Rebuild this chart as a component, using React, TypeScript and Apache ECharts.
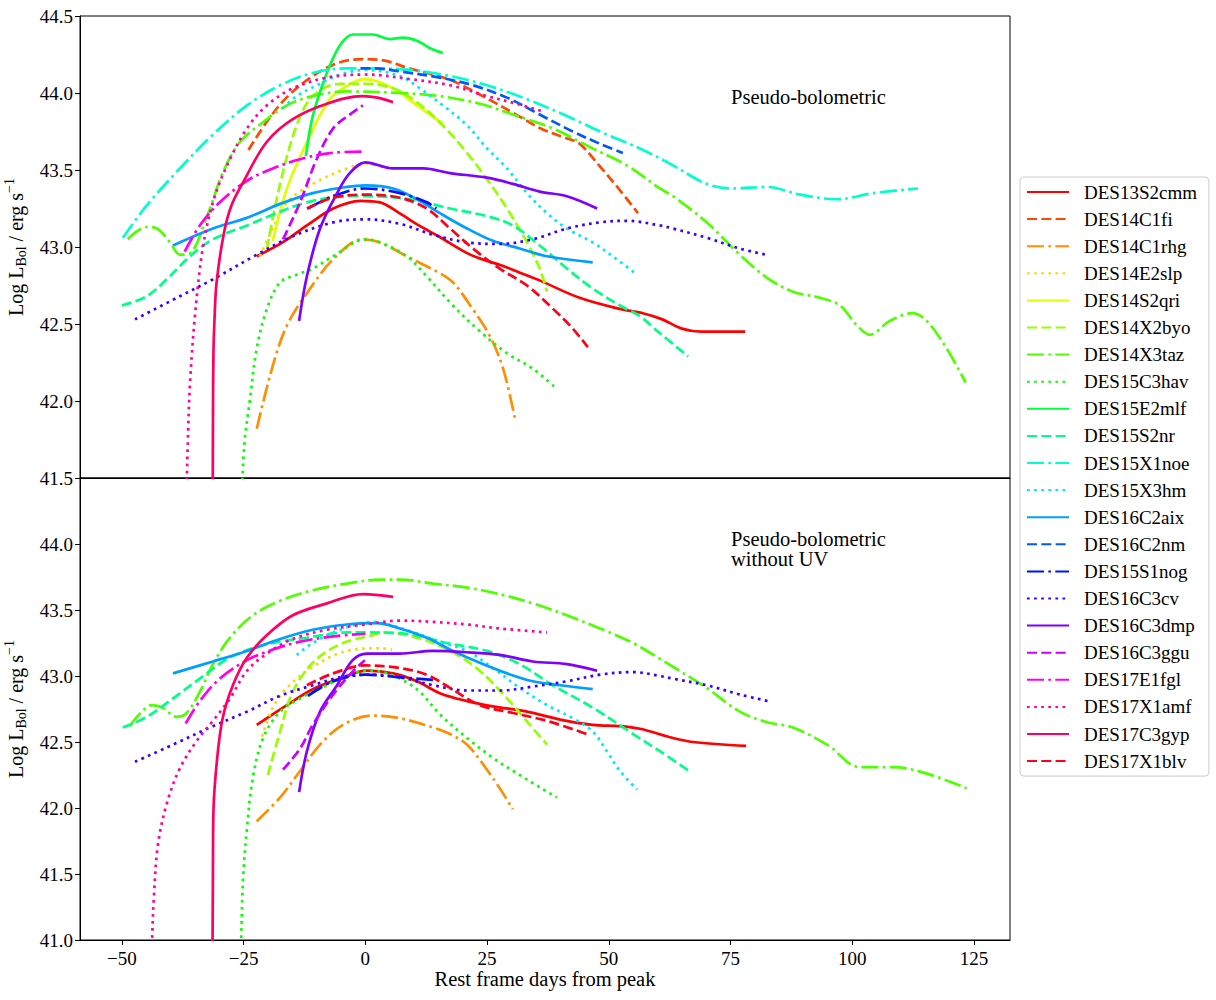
import React, { useEffect, useRef } from "react";
import * as echarts from "echarts";

type P = [number, number][];

const FONT = '"Liberation Serif", "Times New Roman", serif';

const names = [
  "DES13S2cmm", "DES14C1fi", "DES14C1rhg", "DES14E2slp", "DES14S2qri", "DES14X2byo",
  "DES14X3taz", "DES15C3hav", "DES15E2mlf", "DES15S2nr", "DES15X1noe", "DES15X3hm",
  "DES16C2aix", "DES16C2nm", "DES15S1nog", "DES16C3cv", "DES16C3dmp", "DES16C3ggu",
  "DES17E1fgl", "DES17X1amf", "DES17C3gyp", "DES17X1blv",
];

const colors = [
  "#ff0000", "#ff4800", "#ff8f00", "#ffd700", "#dfff00", "#97ff00",
  "#50ff00", "#08ff00", "#00ff40", "#00ff87", "#00ffcf", "#00e7ff",
  "#009fff", "#0058ff", "#0010ff", "#3800ff", "#7f00ff", "#c700ff",
  "#ff00ef", "#ff00a7", "#ff0060", "#ff0018",
];

const xTicks = [-50, -25, 0, 25, 50, 75, 100, 125];

// ---------- Pseudo-bolometric (top panel) ----------
const DES13S2cmm_bol: P = [[-22.3,42.94],[-17,43.03],[-12,43.14],[-6.6,43.25],[-1,43.30],[3,43.29],[7,43.22],[11,43.14],[15,43.07],[20.9,42.96],[24,42.92],[28,42.88],[32,42.83],[36,42.78],[44,42.67],[52,42.60],[57,42.57],[61,42.53],[65,42.47],[69,42.45],[78,42.45]];
const DES14C1fi_bol: P = [[-24,43.63],[-20.3,43.81],[-16.2,43.97],[-10.8,44.11],[-5.2,44.20],[0,44.22],[4,44.21],[9,44.16],[17,44.09],[23.5,43.99],[31,43.86],[36,43.77],[41,43.71],[44,43.67],[48,43.53],[52,43.38],[56,43.22]];
const DES14C1rhg_bol: P = [[-22.3,41.82],[-19,42.23],[-16.1,42.49],[-12,42.70],[-6.6,42.92],[-0.5,43.05],[3,43.03],[8.5,42.94],[15.3,42.83],[18,42.77],[22,42.60],[25.6,42.42],[28.3,42.21],[30.7,41.89]];
const DES14E2slp_bol: P = [[-21.7,42.94],[-19,43.12],[-16.1,43.29],[-10.8,43.41],[-3.8,43.51],[0,43.54],[5,43.51]];
const DES14S2qri_bol: P = [[-19,43.04],[-16.1,43.38],[-12,43.68],[-7.3,43.96],[-3,44.06],[0,44.09],[5.7,44.03],[10.6,43.92],[16,43.80]];
const DES14X2byo_bol: P = [[-20.2,42.99],[-17.5,43.41],[-14.1,43.79],[-10.8,43.98],[-5.2,44.06],[0,44.06],[5.7,44.03],[10.6,43.94],[15.9,43.79],[20.9,43.61],[25,43.44],[29.1,43.25],[33.2,43.03],[35.8,42.86],[37.3,42.71]];
const DES14X3taz_bol: P = [[-48.8,43.05],[-44.9,43.13],[-42.8,43.12],[-40.1,43.03],[-38.1,42.95],[-36,42.96],[-32.5,43.20],[-29.3,43.48],[-25.8,43.68],[-21,43.81],[-16.1,43.92],[-10.8,43.98],[-3.8,44.01],[7.1,44.00],[15.3,43.98],[23.5,43.93],[30.3,43.86],[38.5,43.77],[46.7,43.64],[53.7,43.53],[60.5,43.38],[63.2,43.33],[70.1,43.16],[76.9,42.95],[82.5,42.80],[87.8,42.71],[93.4,42.67],[97.5,42.62],[101,42.49],[103.6,42.43],[107.7,42.52],[112.3,42.57],[115.3,42.52],[119.4,42.34],[123.3,42.12]];
const DES15C3hav_bol: P = [[-25.4,41.3],[-24.9,41.7],[-23.7,42.01],[-22.3,42.34],[-20.2,42.60],[-17.5,42.77],[-14.1,42.82],[-10.8,42.86],[-6.6,42.94],[0,43.05],[3,43.03],[8.5,42.94],[12.6,42.81],[17.4,42.64],[22.9,42.47],[29.1,42.31],[34.4,42.21],[39.3,42.08]];
const DES15E2mlf_bol: P = [[-12.2,43.59],[-10.8,43.85],[-7.9,44.13],[-5.2,44.31],[-2.6,44.38],[1.5,44.38],[5,44.35],[7.7,44.36],[10.6,44.34],[13.3,44.29],[15.9,44.26]];
const DES15S2nr_bol: P = [[-50,42.62],[-44.9,42.68],[-40.8,42.79],[-36,42.94],[-31.3,43.05],[-24.3,43.14],[-19,43.21],[-12,43.29],[-3.8,43.33],[0,43.33],[9.2,43.31],[17.4,43.25],[25,43.20],[30.3,43.14],[35.8,43.01],[41.4,42.86],[46.7,42.73],[52.3,42.62],[56.4,42.55],[60.5,42.44],[66.3,42.29]];
const DES15X1noe_bol: P = [[-49.8,43.06],[-44.9,43.27],[-38.1,43.51],[-31.3,43.73],[-24.3,43.92],[-17.5,44.05],[-10.8,44.13],[-3.8,44.16],[0,44.16],[9.2,44.15],[17.4,44.11],[25,44.05],[33.2,43.96],[41.4,43.85],[49.6,43.73],[56.4,43.64],[63.2,43.53],[70.1,43.41],[75.5,43.38],[82.5,43.39],[89.3,43.34],[96.9,43.31],[104.3,43.35],[113.5,43.38]];
const DES15X3hm_bol: P = [[-17,43.9],[-14.1,43.98],[-9.3,44.06],[-5.2,44.12],[0,44.15],[7.1,44.11],[11.2,44.03],[15.9,43.92],[20.9,43.79],[25,43.64],[29.1,43.51],[33.2,43.35],[37.3,43.22],[41.4,43.12],[46.7,43.03],[50.8,42.94],[55.4,42.83]];
const DES16C2aix_bol: P = [[-39.5,43.01],[-31.3,43.12],[-24.3,43.19],[-17.5,43.28],[-10.8,43.35],[-3.8,43.39],[0,43.40],[5.7,43.38],[10.6,43.31],[15.3,43.22],[20.9,43.12],[26.2,43.04],[31.7,42.99],[37.3,42.94],[46.7,42.90]];
const DES16C2nm_bol: P = [[-1,44.16],[2,44.16],[7.1,44.14],[15.3,44.10],[22.1,44.05],[29.1,43.97],[35.8,43.86],[42.6,43.75],[48.2,43.67],[52.9,43.61]];
const DES15S1nog_bol: P = [[-11.8,43.25],[-6.6,43.33],[0,43.38],[7.1,43.35],[12.6,43.29],[14.6,43.25]];
const DES16C3cv_bol: P = [[-47.3,42.53],[-38.1,42.68],[-31.3,42.79],[-22.3,42.95],[-14.9,43.07],[-6.6,43.16],[0,43.18],[7.1,43.15],[13.9,43.08],[20.9,43.03],[27.6,43.02],[34.4,43.05],[41.4,43.12],[48.2,43.16],[53.7,43.17],[60.5,43.14],[63.2,43.12],[70.1,43.06],[76.9,42.99],[82.3,42.95]];
const DES16C3dmp_bol: P = [[-13.6,42.52],[-12,42.81],[-9.3,43.12],[-5.8,43.35],[-3.2,43.48],[0,43.55],[5.7,43.51],[11.9,43.51],[17.4,43.48],[25,43.45],[30.3,43.41],[35.8,43.36],[41.4,43.33],[47.6,43.25]];
const DES16C3ggu_bol: P = [[-16.9,43.05],[-13.4,43.29],[-10,43.57],[-6.6,43.77],[-3.2,43.86],[-0.5,43.92]];
const DES17E1fgl_bol: P = [[-37.1,42.97],[-34,43.14],[-29.9,43.29],[-24.3,43.43],[-19,43.51],[-13.4,43.57],[-7.3,43.61],[-0.1,43.62]];
const DES17X1amf_bol: P = [[-36.8,41.3],[-36.4,41.8],[-36,42.12],[-35,42.55],[-33.4,42.99],[-31.3,43.29],[-28.4,43.53],[-24.3,43.77],[-20.2,43.92],[-14.9,44.03],[-7.9,44.10],[0,44.12],[9.2,44.09],[17.4,44.05],[25,43.98],[31.1,43.93],[36.5,43.88]];
const DES17C3gyp_bol: P = [[-31.35,41.2],[-31.3,41.8],[-31.2,42.3],[-30.95,42.55],[-30.55,42.77],[-29.05,43.09],[-27.5,43.27],[-25.1,43.42],[-20.3,43.68],[-14.9,43.83],[-7.9,43.93],[-0.5,43.98],[2.5,43.97],[5.7,43.94]];
const DES17X1blv_bol: P = [[-12,43.25],[-6.6,43.32],[0,43.34],[7.1,43.32],[12.6,43.25],[17.4,43.12],[22.1,42.99],[27.6,42.86],[33.2,42.75],[38.5,42.60],[42.6,42.47],[45.7,42.35]];

// ---------- Pseudo-bolometric without UV (bottom panel) ----------
const DES13S2cmm_nouv: P = [[-22.3,42.63],[-16.1,42.78],[-10.8,42.90],[-5.2,42.98],[0.3,43.04],[5.7,43.02],[10.6,42.96],[15.3,42.87],[20.9,42.81],[26.2,42.77],[33.2,42.73],[40,42.67],[46.7,42.63],[52.3,42.62],[56.4,42.60],[63.2,42.53],[67.3,42.50],[78.2,42.47]];
const DES14C1rhg_nouv: P = [[-22.3,41.90],[-17.5,42.08],[-13.4,42.28],[-9.3,42.48],[-4.6,42.63],[1.5,42.70],[7.1,42.68],[13.9,42.61],[17.4,42.56],[20.9,42.48],[24.2,42.33],[27.6,42.15],[30.3,41.99]];
const DES14E2slp_nouv: P = [[-21.2,42.54],[-19,42.76],[-16.1,42.91],[-10.8,43.07],[-3.8,43.19],[3,43.21],[5.5,43.20]];
const DES14X2byo_nouv: P = [[-20,42.25],[-17.5,42.58],[-14.9,42.88],[-10.8,43.10],[-5.2,43.24],[1.5,43.31],[3.6,43.33],[10.6,43.29],[17.4,43.19],[23.5,43.04],[29.1,42.83],[33.8,42.63],[37.3,42.48]];
const DES14X3taz_nouv: P = [[-48.4,42.62],[-45.9,42.73],[-43.8,42.78],[-41.6,42.76],[-38.8,42.69],[-36.7,42.72],[-34,42.88],[-31.3,43.09],[-27.8,43.29],[-23.1,43.46],[-17.5,43.57],[-10.8,43.65],[-3.8,43.70],[3,43.73],[7.1,43.73],[13.9,43.70],[20.9,43.67],[27.6,43.62],[34.4,43.55],[41.4,43.46],[48.2,43.36],[55,43.25],[60.5,43.13],[63.2,43.07],[70.1,42.91],[76.9,42.73],[82.5,42.65],[87.8,42.61],[94.8,42.48],[101.6,42.31],[108.3,42.31],[114.5,42.27],[123.5,42.15]];
const DES15C3hav_nouv: P = [[-25.6,40.8],[-25.5,41.0],[-25.1,41.47],[-24.3,41.85],[-23.1,42.23],[-21,42.53],[-17.5,42.73],[-13.4,42.83],[-7.9,42.93],[-2.6,43.02],[1.5,43.04],[7.1,42.98],[11.2,42.88],[15.3,42.71],[20.9,42.53],[26.2,42.38],[31.7,42.25],[39.3,42.08]];
const DES15S2nr_nouv: P = [[-49.8,42.61],[-44.9,42.69],[-39.5,42.83],[-34,42.98],[-27.8,43.14],[-20.2,43.24],[-12,43.29],[-3.8,43.33],[0,43.33],[8.5,43.32],[16.7,43.25],[25,43.19],[31.7,43.09],[38.5,42.93],[46.7,42.76],[55,42.56],[60.5,42.43],[66.5,42.28]];
const DES15X3hm_nouv: P = [[-14.1,43.16],[-10.8,43.25],[-5.2,43.35],[1.5,43.41],[3.6,43.40],[9.2,43.34],[15.3,43.26],[20.9,43.19],[26.2,43.06],[31.7,42.91],[37.3,42.78],[42.6,42.68],[46.7,42.58],[49.6,42.43],[52.3,42.28],[55.8,42.14]];
const DES16C2aix_nouv: P = [[-39.5,43.02],[-31.3,43.11],[-24.3,43.19],[-17.5,43.28],[-10.8,43.35],[-3.8,43.39],[2.3,43.40],[7.1,43.36],[12.6,43.29],[18,43.19],[23.5,43.10],[29.1,43.02],[34.4,42.96],[40,42.93],[46.7,42.90]];
const DES15S1nog_nouv: P = [[-11.8,42.85],[-6.6,42.96],[0,43.01],[7.1,42.99],[13.9,42.97]];
const DES16C3cv_nouv: P = [[-47.3,42.35],[-39.5,42.48],[-31.3,42.62],[-24.3,42.73],[-17.5,42.85],[-10.8,42.93],[-3.8,43.0],[1.5,43.01],[7.1,42.99],[13.9,42.93],[20.9,42.89],[27.6,42.89],[34.4,42.92],[41.4,42.96],[48.2,43.01],[55,43.03],[60.5,43.0],[63.2,42.98],[70.1,42.93],[76.9,42.86],[82.7,42.81]];
const DES16C3dmp_nouv: P = [[-13.6,42.12],[-12,42.43],[-9.3,42.73],[-5.8,42.93],[-2.6,43.12],[0.3,43.17],[7.1,43.17],[13.9,43.19],[20.9,43.18],[27.6,43.16],[34.4,43.11],[41.4,43.09],[47.6,43.04]];
const DES16C3ggu_nouv: P = [[-16.9,42.29],[-13.4,42.45],[-10.8,42.63],[-6.6,42.86],[-3.2,43.01],[-0.1,43.12]];
const DES17E1fgl_nouv: P = [[-36.9,42.64],[-34,42.81],[-29.9,42.98],[-24.3,43.12],[-19,43.20],[-13.4,43.26],[-6.6,43.30],[0,43.32]];
const DES17X1amf_nouv: P = [[-43.9,40.8],[-43.8,41.0],[-43.4,41.34],[-42.6,41.72],[-40.8,42.03],[-38.1,42.30],[-34.6,42.51],[-31.3,42.66],[-27.8,42.83],[-24.3,43.04],[-20.2,43.17],[-14.9,43.28],[-7.9,43.35],[0,43.39],[7.1,43.42],[13.9,43.41],[20.9,43.39],[27.6,43.36],[37.3,43.33]];
const DES17C3gyp_nouv: P = [[-31.4,40.8],[-31.3,41.5],[-31.2,41.97],[-30.5,42.35],[-29.3,42.68],[-27.2,42.93],[-24.3,43.14],[-20.2,43.31],[-14.9,43.46],[-7.9,43.55],[-0.5,43.62],[5.7,43.60]];
const DES17X1blv_nouv: P = [[-12,42.93],[-6.6,43.02],[0,43.08],[7.1,43.06],[12.6,43.01],[17.4,42.91],[23.5,42.78],[30.3,42.72],[37.3,42.66],[45.5,42.56]];

const bolData: (P | null)[] = [
  DES13S2cmm_bol, DES14C1fi_bol, DES14C1rhg_bol, DES14E2slp_bol, DES14S2qri_bol, DES14X2byo_bol,
  DES14X3taz_bol, DES15C3hav_bol, DES15E2mlf_bol, DES15S2nr_bol, DES15X1noe_bol, DES15X3hm_bol,
  DES16C2aix_bol, DES16C2nm_bol, DES15S1nog_bol, DES16C3cv_bol, DES16C3dmp_bol, DES16C3ggu_bol,
  DES17E1fgl_bol, DES17X1amf_bol, DES17C3gyp_bol, DES17X1blv_bol,
];
const noUVData: (P | null)[] = [
  DES13S2cmm_nouv, null, DES14C1rhg_nouv, DES14E2slp_nouv, null, DES14X2byo_nouv,
  DES14X3taz_nouv, DES15C3hav_nouv, null, DES15S2nr_nouv, null, DES15X3hm_nouv,
  DES16C2aix_nouv, null, DES15S1nog_nouv, DES16C3cv_nouv, DES16C3dmp_nouv, DES16C3ggu_nouv,
  DES17E1fgl_nouv, DES17X1amf_nouv, DES17C3gyp_nouv, DES17X1blv_nouv,
];

const dashStyles: any[] = ["solid", [10, 4.3], [17, 4.3, 2.7, 4.3], [2.7, 4.4]];

const fmtX = (v: number) => (v < 0 ? "\u2212" + Math.abs(v) : String(v));

export default function App() {
  const ref = useRef<HTMLDivElement>(null);
  useEffect(() => {
    if (!ref.current) return;
    const chart = echarts.init(ref.current, undefined, { renderer: "svg" });
    const series: any[] = [];
    const mk = (i: number, data: P, panel: number) => ({
      type: "line",
      name: names[i],
      xAxisIndex: panel,
      yAxisIndex: panel,
      data,
      symbol: "none",
      showSymbol: false,
      smooth: 0.35,
      clip: true,
      silent: true,
      lineStyle: { color: colors[i], width: 2.7, type: dashStyles[i % 4], cap: "butt" },
      itemStyle: { color: colors[i] },
      z: 2 + i,
    });
    bolData.forEach((d, i) => d && series.push(mk(i, d, 0)));
    noUVData.forEach((d, i) => d && series.push(mk(i, d, 1)));

    const yName = "Log L{sub|Bol} / erg s{sup|\u22121}";
    const yNameStyle = {
      fontFamily: FONT,
      fontSize: 20,
      color: "#000",
      lineHeight: 26,
      rich: {
        sub: { fontFamily: FONT, fontSize: 14, lineHeight: 14, verticalAlign: "bottom", color: "#000" },
        sup: { fontFamily: FONT, fontSize: 14, lineHeight: 14, verticalAlign: "top", color: "#000" },
      },
    };
    const axisCommon = {
      axisLine: { show: true, onZero: false, lineStyle: { color: "#000", width: 1 } },
      axisTick: { show: true, inside: false, length: 5, lineStyle: { color: "#000", width: 1 } },
      splitLine: { show: false },
    };
    const gridCommon = {
      left: 80, width: 930, height: 462, show: true, borderColor: "#000", borderWidth: 1,
      backgroundColor: "transparent", containLabel: false, outerBoundsMode: "none",
    };
    const option: any = {
      animation: false,
      backgroundColor: "#fff",
      grid: [
        { ...gridCommon, top: 16 },
        { ...gridCommon, top: 478 },
      ],
      xAxis: [
        {
          type: "value", gridIndex: 0, min: -58.6, max: 132.4,
          ...axisCommon,
          axisTick: { show: false },
          axisLabel: { show: false },
        },
        {
          type: "value", gridIndex: 1, min: -58.6, max: 132.4,
          ...axisCommon,
          axisTick: { ...axisCommon.axisTick, customValues: xTicks },
          axisLabel: {
            customValues: xTicks, formatter: fmtX, margin: 9,
            fontFamily: FONT, fontSize: 19, color: "#000",
          },
          name: "Rest frame days from peak",
          nameLocation: "middle",
          nameGap: 28,
          nameTextStyle: { fontFamily: FONT, fontSize: 20.5, color: "#000" },
        },
      ],
      yAxis: [
        {
          type: "value", gridIndex: 0, min: 41.5, max: 44.5, interval: 0.5,
          ...axisCommon,
          axisLabel: { formatter: (v: number) => v.toFixed(1), margin: 7, fontFamily: FONT, fontSize: 19, color: "#000" },
          name: yName, nameLocation: "middle", nameGap: 50, nameRotate: 90,
          nameTextStyle: yNameStyle,
        },
        {
          type: "value", gridIndex: 1, min: 41.0, max: 44.5, interval: 0.5,
          ...axisCommon,
          axisLabel: { formatter: (v: number) => (v > 44.4 ? "" : v.toFixed(1)), margin: 7, fontFamily: FONT, fontSize: 19, color: "#000" },
          name: yName, nameLocation: "middle", nameGap: 50, nameRotate: 90,
          nameTextStyle: yNameStyle,
        },
      ],
      legend: {
        orient: "vertical",
        left: 1020,
        top: 177,
        padding: [5.5, 12, 5.5, 6],
        itemWidth: 42,
        itemHeight: 14,
        itemGap: 8.1,
        selectedMode: false,
        backgroundColor: "#fff",
        borderColor: "#cccccc",
        borderWidth: 1,
        borderRadius: 4,
        data: names,
        itemStyle: { opacity: 0 },
        textStyle: { fontFamily: FONT, fontSize: 19, color: "#000", lineHeight: 19, padding: [0, 0, 0, 10] },
      },
      graphic: [
        {
          type: "text", left: 731, top: 86,
          style: { text: "Pseudo-bolometric", font: `20.5px ${FONT}`, fill: "#000" },
        },
        {
          type: "text", left: 731, top: 528,
          style: { text: "Pseudo-bolometric\nwithout UV", font: `20.5px ${FONT}`, fill: "#000", lineHeight: 20 },
        },
      ],
      series,
    };
    chart.setOption(option);
    return () => chart.dispose();
  }, []);
  return (
    <div
      ref={ref}
      style={{ position: "fixed", left: 0, top: 0, width: 1216, height: 1000, background: "#fff" }}
    />
  );
}
